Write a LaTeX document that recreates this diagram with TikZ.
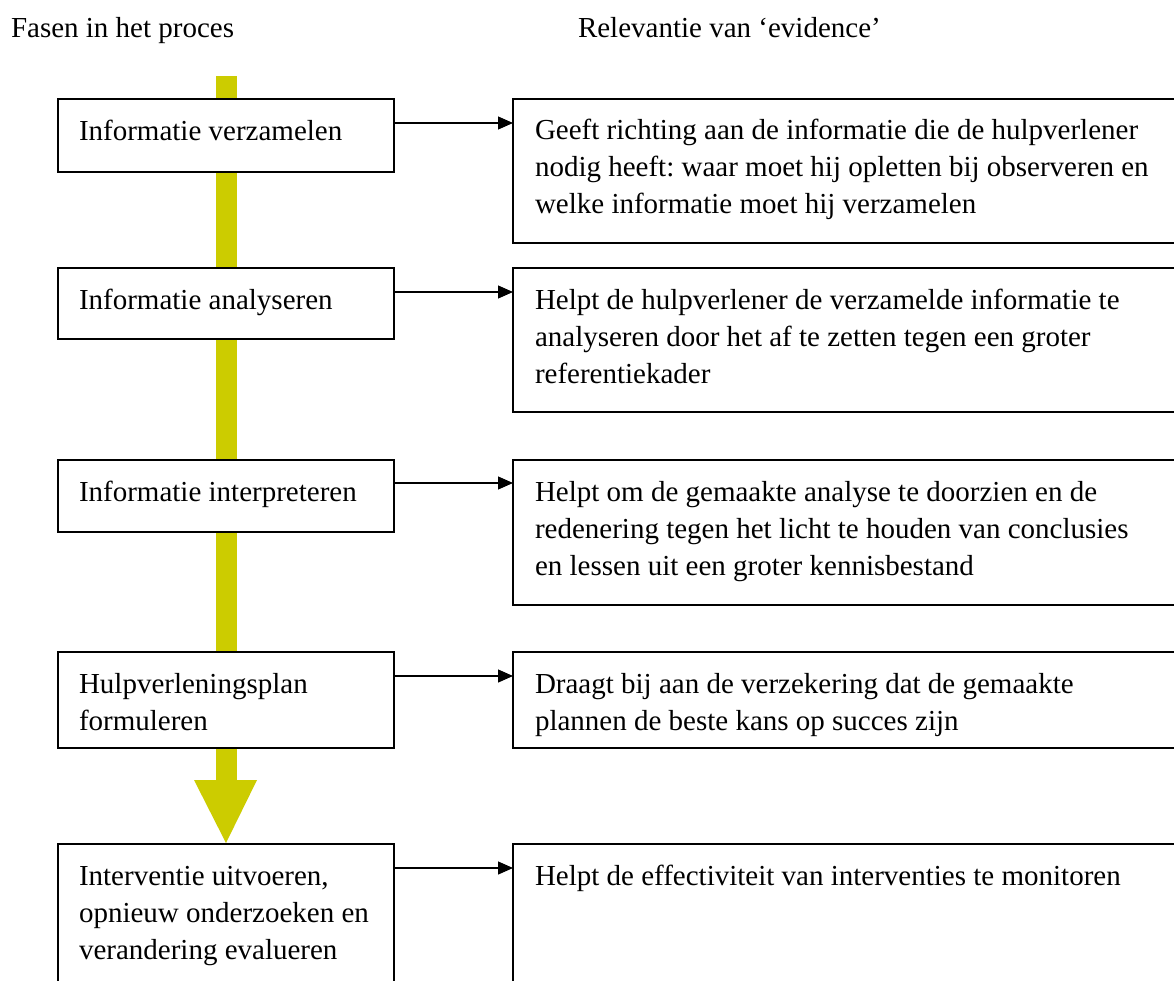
\documentclass[tikz,border=0pt]{standalone}
\usepackage{fontspec}
\setmainfont{Liberation Serif}
\usetikzlibrary{arrows.meta}
\definecolor{barcol}{RGB}{204,204,0}
\frenchspacing
\newcommand{\bodytext}[1]{\parbox[t]{640pt}{\fontsize{29pt}{37pt}\selectfont\frenchspacing\raggedright #1}}
\begin{document}
\begin{tikzpicture}[x=1pt,y=-1pt,
  box/.style={draw, line width=1.7pt, fill=white, anchor=north west, inner sep=0pt, outer sep=0pt},
  lbox/.style={box, minimum width=336pt},
  rbox/.style={box, minimum width=680pt},
  txt/.style={anchor=base west, inner sep=0pt, outer sep=0pt},
  conn/.style={draw, line width=1.2pt, -{Triangle[length=15pt,width=13pt]}}]
\clip (0,0) rectangle (1174,981);
\fill[white] (0,0) rectangle (1174,981);
% headings
\node[txt] (h1) at (11,38) {\bodytext{Fasen in het proces}};
\node[txt] (h2) at (578,38) {\bodytext{Relevantie van ‘evidence’}};
% yellow process arrow
\fill[barcol] (216,76) rectangle (237,781);
\fill[barcol] (194,780) -- (257,780) -- (226,843) -- cycle;
% left boxes
\node[lbox, minimum height=73pt] (L1) at (58,99) {};
\node[lbox, minimum height=71pt] (L2) at (58,268) {};
\node[lbox, minimum height=72pt] (L3) at (58,460) {};
\node[lbox, minimum height=96pt] (L4) at (58,652) {};
\node[lbox, minimum height=160pt] (L5) at (58,844) {};
% right boxes
\node[rbox, minimum height=144pt] (R1) at (513,99) {};
\node[rbox, minimum height=144pt] (R2) at (513,268) {};
\node[rbox, minimum height=145pt] (R3) at (513,460) {};
\node[rbox, minimum height=96pt] (R4) at (513,652) {};
\node[rbox, minimum height=160pt] (R5) at (513,844) {};
% left texts
\node[txt] (tL1) at (79,141) {\bodytext{Informatie verzamelen}};
\node[txt] (tL2) at (79,309) {\bodytext{Informatie analyseren}};
\node[txt] (tL3) at (79,501) {\bodytext{Informatie interpreteren}};
\node[txt] (tL4) at (79,693) {\bodytext{Hulpverleningsplan\\formuleren}};
\node[txt] (tL5) at (79,885) {\bodytext{Interventie uitvoeren,\\opnieuw onderzoeken en\\verandering evalueren}};
% right texts
\node[txt] (tR1) at (535,140) {\bodytext{Geeft richting aan de informatie die de hulpverlener\\nodig heeft: waar moet hij opletten bij observeren en\\welke informatie moet hij verzamelen}};
\node[txt] (tR2) at (535,309) {\bodytext{Helpt de hulpverlener de verzamelde informatie te\\analyseren door het af te zetten tegen een groter\\referentiekader}};
\node[txt] (tR3) at (535,501) {\bodytext{Helpt om de gemaakte analyse te doorzien en de\\redenering tegen het licht te houden van conclusies\\en lessen uit een groter kennisbestand}};
\node[txt] (tR4) at (535,693) {\bodytext{Draagt bij aan de verzekering dat de gemaakte\\plannen de beste kans op succes zijn}};
\node[txt] (tR5) at (535,885) {\bodytext{Helpt de effectiviteit van interventies te monitoren}};
% connectors
\draw[conn] ([yshift=-24pt]L1.north east) -- ([yshift=-24pt]R1.north west);
\draw[conn] ([yshift=-24pt]L2.north east) -- ([yshift=-24pt]R2.north west);
\draw[conn] ([yshift=-23pt]L3.north east) -- ([yshift=-23pt]R3.north west);
\draw[conn] ([yshift=-24pt]L4.north east) -- ([yshift=-24pt]R4.north west);
\draw[conn] ([yshift=-24pt]L5.north east) -- ([yshift=-24pt]R5.north west);
\end{tikzpicture}
\end{document}
